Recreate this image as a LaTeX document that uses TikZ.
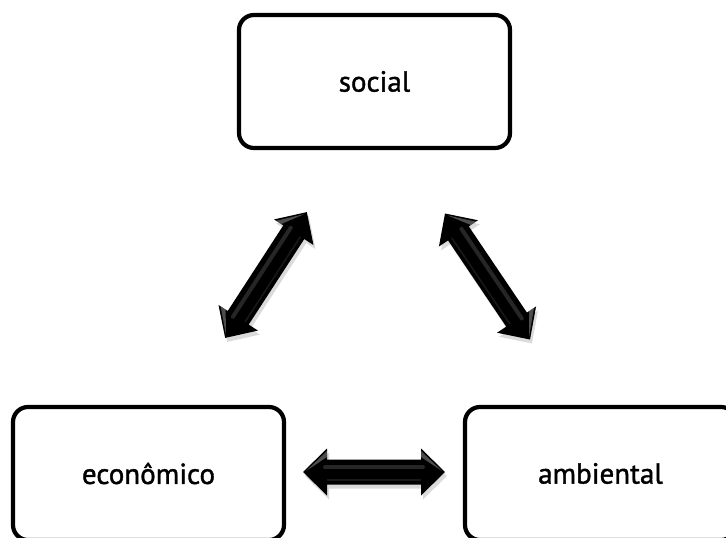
\documentclass[tikz,border=0pt]{standalone}
\usepackage{fontspec}
\setmainfont{PT Sans}
\newfontfamily\lblfont[FakeBold=1.3]{PT Sans}
\usetikzlibrary{calc}
\tikzset{
  box/.style={draw=black, line width=4.2pt, rounded corners=15pt, fill=white,
    minimum width=271pt, minimum height=133pt, inner sep=0pt,
    font=\lblfont\fontsize{29}{34}\selectfont},
}
\newcommand\dblarr[3]{%
  \begin{scope}[shift={(#1)}]
    \fill[black!20,opacity=.7] [shift={(2,4)},rotate=#2]
      (-#3,0) -- (-#3+24,23.5) -- (-#3+24,12.5) -- (#3-24,12.5) -- (#3-24,23.5) -- (#3,0)
      -- (#3-24,-23.5) -- (#3-24,-12.5) -- (-#3+24,-12.5) -- (-#3+24,-23.5) -- cycle;
    \begin{scope}[rotate=#2]
      \fill[black]
        (-#3,0) -- (-#3+24,23.5) -- (-#3+24,12.5) -- (#3-24,12.5) -- (#3-24,23.5) -- (#3,0)
        -- (#3-24,-23.5) -- (#3-24,-12.5) -- (-#3+24,-12.5) -- (-#3+24,-23.5) -- cycle;
      \draw[black!70, line width=4pt, line cap=round, opacity=.5] (-#3+22,-5) -- (#3-22,-5);
      \draw[black!80, line width=1.5pt, opacity=.5] (-#3+24,8) -- (#3-24,8);
      \fill[black!40,opacity=.5] (-#3+3,-1) -- (-#3+24,-21) -- (-#3+24,-15) -- cycle;
      \fill[black!40,opacity=.5] (#3-3,-1) -- (#3-24,-21) -- (#3-24,-15) -- cycle;
    \end{scope}
  \end{scope}}
\begin{document}
\begin{tikzpicture}[x=1pt,y=-1pt]
  \useasboundingbox (0,0) rectangle (726,538);
  \node[box] (social) at (374.5,81.5) {social};
  \node[box] (econ) at (148.5,473.5) {econômico};
  \node[box] (amb) at (600.5,473.5) {ambiental};
  \coordinate (a1) at (266,275);
  \coordinate (a2) at (487.5,276.5);
  \coordinate (a3) at (374,472);
  \dblarr{a1}{57}{75}
  \dblarr{a2}{-56}{76}
  \dblarr{a3}{0}{71}
\end{tikzpicture}
\end{document}
